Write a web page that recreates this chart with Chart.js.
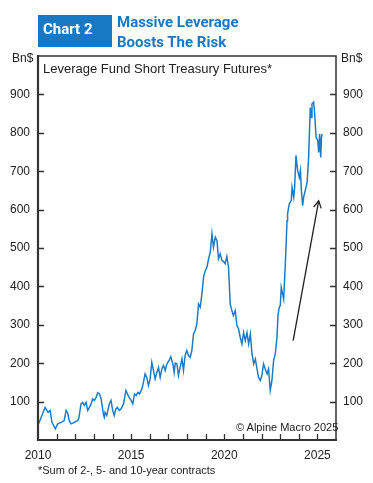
<!DOCTYPE html>
<html>
<head>
<meta charset="utf-8">
<script src="https://cdn.jsdelivr.net/npm/chart.js@4.4.1/dist/chart.umd.min.js"></script>
<style>
  body { margin: 0; background: #fff; }
  #wrap { position: relative; width: 373px; height: 483px; font-family: Arial, "Liberation Sans", sans-serif; }
  #chart { position: absolute; left: 0; top: 0; }
  .box { position: absolute; left: 38px; top: 15px; width: 74px; height: 32px; background: #1778c4; }
  .box span { position: absolute; left: 5px; top: 5px; color: #fff; font-weight: bold; font-size: 15px; font-family: Roboto, Arial, sans-serif; }
  .head { position: absolute; left: 117px; color: #1778c4; font-weight: bold; font-size: 15px; font-family: Roboto, Arial, sans-serif; white-space: nowrap; }
  .lbl { position: absolute; font-size: 12px; color: #222; white-space: nowrap; }
</style>
</head>
<body>
<div id="wrap">
  <canvas id="chart" width="373" height="483"></canvas>
  <div class="box"><span>Chart 2</span></div>
  <div class="head" style="top:13px">Massive Leverage</div>
  <div class="head" style="top:33px">Boosts The Risk</div>
  <div class="lbl" style="left:12px;top:51px">Bn$</div>
  <div class="lbl" style="left:341px;top:51px">Bn$</div>
  <div class="lbl" style="left:43px;top:61px;font-size:13px">Leverage Fund Short Treasury Futures*</div>
  <div class="lbl" style="left:236px;top:421px;font-size:11px">© Alpine Macro 2025</div>
  <div class="lbl" style="left:38px;top:464px;font-size:11px">*Sum of 2-, 5- and 10-year contracts</div>
</div>
<script>
// leveraged fund short positions, Bn$
let dates = [
  2010.04, 2010.38, 2010.54, 2010.65, 2010.75, 2010.93, 2011.06, 2011.24, 2011.40, 2011.51,
  2011.60, 2011.68, 2011.77, 2011.95, 2012.13, 2012.19, 2012.31, 2012.40, 2012.49, 2012.58,
  2012.67, 2012.76, 2012.85, 2012.94, 2013.03, 2013.12, 2013.21, 2013.30, 2013.39, 2013.48,
  2013.52, 2013.56, 2013.60, 2013.69, 2013.83, 2013.92, 2014.01, 2014.09, 2014.18, 2014.26,
  2014.37, 2014.46, 2014.59, 2014.72, 2014.80, 2014.89, 2015.00, 2015.09, 2015.18, 2015.27,
  2015.36, 2015.45, 2015.58, 2015.66, 2015.75, 2015.84, 2015.93, 2016.02, 2016.11, 2016.20,
  2016.29, 2016.38, 2016.47, 2016.56, 2016.65, 2016.74, 2016.83, 2016.92, 2017.04, 2017.13,
  2017.24, 2017.31, 2017.37, 2017.46, 2017.54, 2017.63, 2017.73, 2017.81, 2017.90, 2017.99,
  2018.08, 2018.17, 2018.26, 2018.35, 2018.44, 2018.53, 2018.62, 2018.71, 2018.80, 2018.89,
  2018.98, 2019.07, 2019.16, 2019.25, 2019.34, 2019.42, 2019.52, 2019.61, 2019.69, 2019.78,
  2019.88, 2019.96, 2020.05, 2020.14, 2020.23, 2020.32, 2020.41, 2020.49, 2020.59, 2020.68,
  2020.77, 2020.86, 2020.95, 2021.04, 2021.13, 2021.22, 2021.31, 2021.40, 2021.49, 2021.58,
  2021.67, 2021.76, 2021.84, 2021.94, 2022.02, 2022.11, 2022.20, 2022.30, 2022.38, 2022.47,
  2022.56, 2022.65, 2022.74, 2022.83, 2022.89, 2022.96, 2023.01, 2023.06, 2023.19, 2023.28,
  2023.37, 2023.40, 2023.49, 2023.60, 2023.64, 2023.73, 2023.78, 2023.85, 2023.94, 2024.03,
  2024.09, 2024.14, 2024.21, 2024.26, 2024.35, 2024.45, 2024.53, 2024.62, 2024.66, 2024.71,
  2024.80, 2024.85, 2024.93, 2025.02, 2025.07, 2025.12, 2025.18, 2025.22, 2025.25
];
let values = [
  43, 85, 72, 77, 46, 29, 42, 46, 50, 77,
  69, 50, 42, 46, 51, 56, 94, 98, 90, 98,
  77, 85, 94, 107, 103, 111, 123, 120, 107, 77,
  65, 59, 72, 64, 94, 103, 77, 64, 81, 85,
  77, 81, 94, 129, 120, 111, 103, 94, 120, 116,
  124, 120, 133, 150, 172, 163, 142, 159, 202, 181,
  159, 176, 189, 163, 185, 194, 181, 198, 207, 217,
  198, 176, 200, 198, 168, 189, 211, 181, 220, 233,
  220, 215, 233, 276, 285, 302, 354, 346, 380, 424,
  441, 450, 472, 489, 537, 502, 528, 519, 472, 485,
  467, 465, 459, 478, 450, 354, 337, 324, 337, 298,
  289, 267, 250, 280, 259, 280, 250, 276, 224, 198,
  211, 185, 163, 155, 168, 198, 185, 172, 185, 129,
  155, 207, 224, 267, 328, 346, 350, 398, 367, 459,
  571, 589, 615, 624, 658, 632, 658, 741, 702, 684,
  702, 650, 610, 632, 650, 671, 736, 866, 840, 875,
  880, 853, 788, 780, 749, 797, 736, 788, 797
];
// arrow annotation: [year, value] start and tip
let arrowFrom = [2023.7, 259];
let arrowTo = [2025.07, 623];

let yTicks = [100, 200, 300, 400, 500, 600, 700, 800, 900];
let xLabels = [2010, 2015, 2020, 2025];

let points = dates.map((d, i) => ({ x: d, y: values[i] }));

let framePlugin = {
    id: 'frame',
    afterDraw: function (chart) {
        let ctx = chart.ctx;
        let a = chart.chartArea;
        let xs = chart.scales.x, ys = chart.scales.y;
        ctx.save();
        ctx.strokeStyle = '#333';
        // ticks inside
        ctx.lineWidth = 1.3;
        ctx.beginPath();
        for (let yr = 2011; yr <= 2025; yr++) {
            let px = Math.round(xs.getPixelForValue(yr)) + 0.5;
            ctx.moveTo(px, a.bottom);
            ctx.lineTo(px, a.bottom - 6);
        }
        yTicks.forEach(function (v) {
            let py = Math.round(ys.getPixelForValue(v)) + 0.5;
            ctx.moveTo(a.left, py);
            ctx.lineTo(a.left + 6, py);
            ctx.moveTo(a.right, py);
            ctx.lineTo(a.right - 6, py);
        });
        ctx.stroke();
        // frame
        ctx.lineWidth = 1.5;
        ctx.beginPath();
        ctx.moveTo(a.left, a.top);
        ctx.lineTo(a.right, a.top);
        ctx.lineTo(a.right, a.bottom);
        ctx.stroke();
        ctx.lineWidth = 2.2;
        ctx.beginPath();
        ctx.moveTo(a.left, a.top - 1);
        ctx.lineTo(a.left, a.bottom);
        ctx.lineTo(a.right + 1, a.bottom);
        ctx.stroke();
        // arrow head
        let x0 = xs.getPixelForValue(arrowFrom[0]), y0 = ys.getPixelForValue(arrowFrom[1]);
        let x1 = xs.getPixelForValue(arrowTo[0]), y1 = ys.getPixelForValue(arrowTo[1]);
        let ang = Math.atan2(y1 - y0, x1 - x0);
        ctx.strokeStyle = '#222';
        ctx.lineWidth = 1.3;
        ctx.beginPath();
        ctx.moveTo(x1 - 8 * Math.cos(ang - 0.5), y1 - 8 * Math.sin(ang - 0.5));
        ctx.lineTo(x1, y1);
        ctx.lineTo(x1 - 8 * Math.cos(ang + 0.5), y1 - 8 * Math.sin(ang + 0.5));
        ctx.stroke();
        ctx.restore();
    }
};

let fitW = function (w) { return function (s) { s.width = w; }; };

new Chart(document.getElementById('chart').getContext('2d'), {
    type: 'line',
    data: {
        datasets: [{
            data: points,
            borderColor: '#1b7dc9',
            borderWidth: 1.5,
            pointRadius: 0,
            tension: 0,
            fill: false
        }, {
            data: [{ x: arrowFrom[0], y: arrowFrom[1] }, { x: arrowTo[0], y: arrowTo[1] }],
            borderColor: '#222',
            borderWidth: 1.3,
            pointRadius: 0,
            fill: false
        }]
    },
    options: {
        responsive: false,
        animation: false,
        layout: { padding: { top: 56, left: 0, right: 0, bottom: 0 } },
        plugins: { legend: { display: false }, tooltip: { enabled: false } },
        scales: {
            x: {
                type: 'linear', position: 'bottom', min: 2010, max: 2026,
                afterBuildTicks: function (s) { s.ticks = xLabels.map(v => ({ value: v })); },
                afterFit: function (s) { s.height = 43; },
                grid: { display: false, drawTicks: false },
                border: { display: false },
                ticks: {
                    autoSkip: false, maxRotation: 0, padding: 8, color: '#222',
                    font: { family: 'Arial', size: 12 },
                    callback: v => String(v)
                }
            },
            y: {
                position: 'left', min: 0, max: 1000,
                afterBuildTicks: function (s) { s.ticks = yTicks.map(v => ({ value: v })); },
                afterFit: fitW(38),
                grid: { display: false, drawTicks: false },
                border: { display: false },
                ticks: { padding: 8, color: '#222', font: { family: 'Arial', size: 12 } }
            },
            y2: {
                position: 'right', min: 0, max: 1000,
                afterBuildTicks: function (s) { s.ticks = yTicks.map(v => ({ value: v })); },
                afterFit: fitW(37),
                grid: { display: false, drawTicks: false },
                border: { display: false },
                ticks: { padding: 7, color: '#222', font: { family: 'Arial', size: 12 } }
            }
        }
    },
    plugins: [framePlugin]
});
</script>
</body>
</html>
